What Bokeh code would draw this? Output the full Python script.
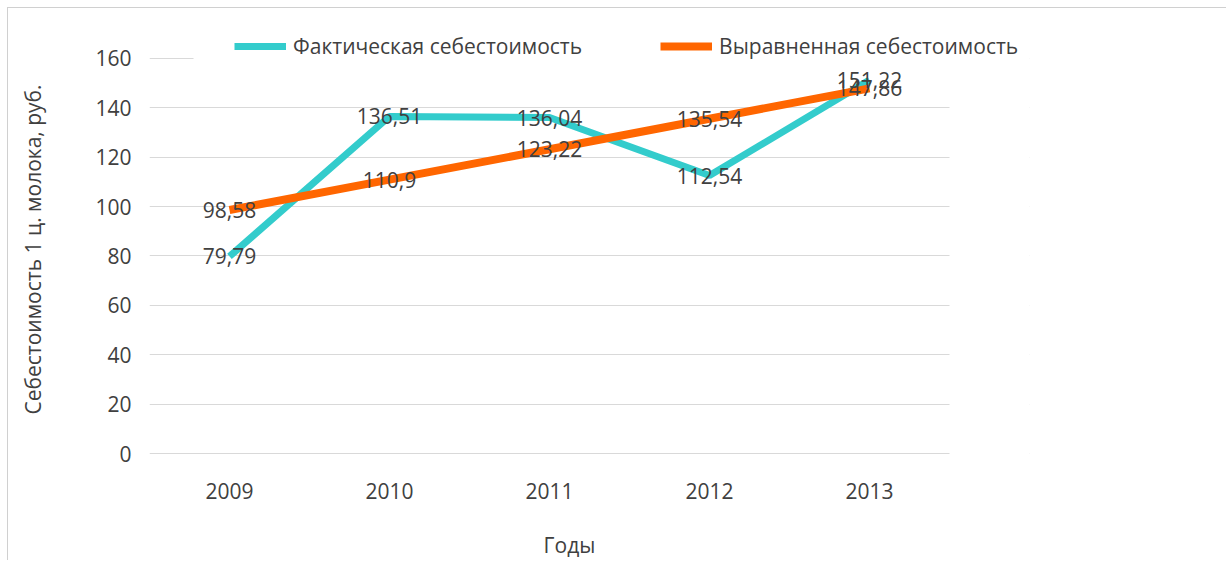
from bokeh.plotting import figure
from bokeh.layouts import row, column
from bokeh.models import (ColumnDataSource, FixedTicker, Range1d, Legend, LegendItem,
                          LabelSet, BoxAnnotation, Spacer, LinearAxis)
from bokeh.core.properties import value
from bokeh.embed import file_html
from bokeh.resources import INLINE

years = [2009, 2010, 2011, 2012, 2013]
actual = [79.79, 136.51, 136.04, 112.54, 151.22]
fitted = [98.58, 110.9, 123.22, 135.54, 147.86]
actual_labels = ["79,79", "136,51", "136,04", "112,54", "151,22"]
fitted_labels = ["98,58", "110,9", "123,22", "135,54", "147,86"]
y_ticks = [0, 20, 40, 60, 80, 100, 120, 140, 160]
x_title = "Годы"
y_title = "Себестоимость 1 ц. молока, руб."

FONT = "Open Sans"
TXT = "#404040"
GRID = "#d9d9d9"
FS = "21px"

# layout constants (pixels -> data units); 160 px per year, 397 px per 160 rub.
PX_Y = 397 / 160
X_START, X_END = years[0] - 0.5, years[0] - 0.5 + 880 / 160
Y_START, Y_END = -1 / PX_Y, 426 / PX_Y
X_TITLE_POS = years[0] + 340 / 160
Y_TITLE_POS = 205 / PX_Y

src = ColumnDataSource(dict(x=years, a=actual, f=fitted, al=actual_labels, fl=fitted_labels))

p = figure(x_range=Range1d(X_START, X_END), y_range=Range1d(Y_START, Y_END),
           width=1219, height=553,
           output_backend="svg", toolbar_location=None, title_location=None,
           min_border_left=141, min_border_right=198, min_border_top=21, min_border_bottom=105)
p.styles = {"border-left": "1.5px solid #d0d0d0", "border-top": "1.5px solid #d0d0d0"}
p.outline_line_color = None
p.background_fill_color = "white"
p.border_fill_color = "white"

p.xgrid.grid_line_color = None
p.ygrid.grid_line_color = GRID
p.ygrid.grid_line_width = 1
p.ygrid.ticker = FixedTicker(ticks=y_ticks)

p.yaxis.ticker = FixedTicker(ticks=y_ticks)
p.yaxis.axis_line_color = None
p.yaxis.major_tick_line_color = None
p.yaxis.minor_tick_line_color = None
p.yaxis.major_tick_out = 0
p.yaxis.minor_tick_out = 0
p.yaxis.major_label_text_font = FONT
p.yaxis.major_label_text_font_size = FS
p.yaxis.major_label_text_color = TXT
p.yaxis.major_label_standoff = 18

p.xaxis.ticker = FixedTicker(ticks=years)
p.xaxis.axis_line_color = None
p.xaxis.major_tick_line_color = None
p.xaxis.minor_tick_line_color = None
p.xaxis.major_label_text_font = FONT
p.xaxis.major_label_text_font_size = FS
p.xaxis.major_label_text_color = TXT
p.xaxis.major_label_standoff = 22

# axis titles, placed as single labels on extra axes
ax_t = LinearAxis(ticker=FixedTicker(ticks=[X_TITLE_POS]),
                  major_label_overrides={X_TITLE_POS: x_title},
                  axis_line_color=None, major_tick_line_color=None, minor_tick_line_color=None,
                  major_tick_out=0, minor_tick_out=0, major_label_standoff=29,
                  major_label_text_font=FONT, major_label_text_font_size=FS,
                  major_label_text_color=TXT)
p.add_layout(ax_t, "below")
ay_t = LinearAxis(ticker=FixedTicker(ticks=[Y_TITLE_POS]),
                  major_label_overrides={Y_TITLE_POS: y_title},
                  major_label_orientation="vertical",
                  axis_line_color=None, major_tick_line_color=None, minor_tick_line_color=None,
                  major_tick_out=0, minor_tick_out=0, major_label_standoff=45,
                  major_label_text_font=FONT, major_label_text_font_size=FS,
                  major_label_text_color=TXT)
p.add_layout(ay_t, "left")

# white patches: gridlines stop at the plot edge; legend box hides the top gridline
p.add_layout(BoxAnnotation(left=years[-1] + 0.5, fill_color="white", fill_alpha=1,
                           line_alpha=0, level="underlay"))
p.add_layout(BoxAnnotation(left=years[0] - 0.5 + 44 / 160, bottom=158.5, top=161.5,
                           fill_color="white", fill_alpha=1, line_alpha=0, level="underlay"))

r_a = p.line("x", "a", source=src, line_color="#33CCCC", line_width=7)
r_f = p.line("x", "f", source=src, line_color="#FF6600", line_width=8)

for col, lab in (("a", "al"), ("f", "fl")):
    ls = LabelSet(x="x", y=col, text=lab, source=src, text_align="center",
                  text_baseline="middle", text_font=value(FONT), text_font_size=FS,
                  text_color=TXT)
    p.add_layout(ls)

legend = Legend(items=[LegendItem(label="Фактическая себестоимость", renderers=[r_a]),
                       LegendItem(label="Выравненная себестоимость", renderers=[r_f])],
                orientation="horizontal", location=(85, 394), padding=0, margin=0,
                spacing=78, label_standoff=7, glyph_width=52, glyph_height=20,
                label_text_font=FONT, label_text_font_size=FS, label_text_color=TXT,
                border_line_alpha=0, background_fill_alpha=0)
p.add_layout(legend, "center")

layout = row(Spacer(width=7), column(Spacer(height=7), p))
open("out.html", "w").write(file_html(layout, INLINE))
